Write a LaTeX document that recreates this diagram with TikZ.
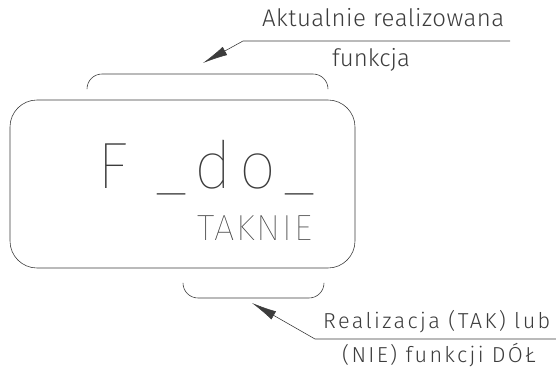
\documentclass[tikz,border=0pt]{standalone}
\usepackage{fontspec}
\setmainfont{Fira Sans}[UprightFont = * Light]
\newfontfamily\thinfont{Fira Sans}[UprightFont = * Thin]
\usetikzlibrary{arrows.meta}
\definecolor{cadline}{RGB}{60,60,60}
\definecolor{cadtext}{RGB}{60,60,60}

\begin{document}
\begin{tikzpicture}[x=0.03cm, y=-0.03cm, >={Latex[length=0.75cm, width=0.28cm]},
    lbl/.style={anchor=base west, inner sep=0pt, text=cadtext},
    wire/.style={draw=cadline, line width=0.5pt},
    brace/.style={wire, rounded corners=0.45cm}]

    \useasboundingbox (0,0) rectangle (556,367);

    % Function block
    \draw[wire, rounded corners=0.81cm] (10,100) rectangle (355,268);
    \node[lbl, font=\thinfont\fontsize{56}{60}\selectfont\addfontfeature{LetterSpace=11}] (fname) at (97,188) {F \_do\_};
    \node[lbl, font=\thinfont\fontsize{31}{34}\selectfont\addfontfeature{LetterSpace=5}] (state) at (197,240) {TAKNIE};

    % Brackets above and below
    \draw[brace] (87,89) -- (87,74) -- (328,74) -- (328,89);
    \draw[brace] (183,283) -- (183,298) -- (324,298) -- (324,283);
    \coordinate (topTip) at (203,63);
    \coordinate (botTip) at (252,303);

    % Upper callout
    \node[lbl, font=\fontsize{20.5}{24}\selectfont\addfontfeature{LetterSpace=1.8}] (cur1) at (262,27) {Aktualnie realizowana};
    \node[lbl, font=\fontsize{20.5}{24}\selectfont] (cur2) at (332,67) {funkcja};
    \coordinate (topEnd) at (510,41);
    \coordinate (topBend) at (243,41);
    \draw[wire, ->] (topEnd) -- (topBend) -- (topTip);

    % Lower callout
    \node[lbl, font=\fontsize{18.5}{22}\selectfont\addfontfeature{LetterSpace=11}] (real1) at (323,328) {Realizacja (TAK) lub};
    \node[lbl, font=\fontsize{18.5}{22}\selectfont\addfontfeature{LetterSpace=10.5}] (real2) at (342,362) {(NIE) funkcji DÓŁ};
    \coordinate (botEnd) at (556,339);
    \coordinate (botBend) at (315,339);
    \draw[wire, ->] (botEnd) -- (botBend) -- (botTip);
\end{tikzpicture}
\end{document}
